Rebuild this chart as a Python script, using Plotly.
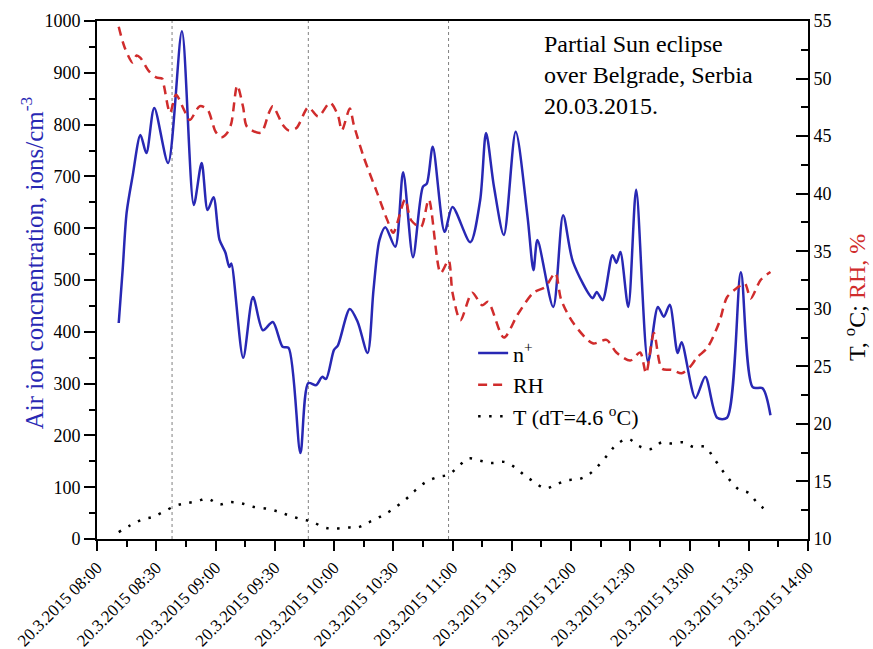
import plotly.graph_objects as go

DAY = "2015-03-20"

# Positive air ion concentration, ions/cm^3
ion_time = ["08:11", "08:13", "08:15", "08:18", "08:22", "08:25", "08:29", "08:36",
            "08:43", "08:49", "08:53", "08:56", "08:59", "09:02", "09:05", "09:07",
            "09:08", "09:14", "09:19", "09:24", "09:29", "09:34", "09:37", "09:43",
            "09:47", "09:51", "09:54", "09:56", "10:00", "10:02", "10:08", "10:12",
            "10:17", "10:20", "10:23", "10:26", "10:31", "10:35", "10:40", "10:45",
            "10:47", "10:50", "10:56", "11:00", "11:09", "11:14", "11:17", "11:21",
            "11:26", "11:32", "11:38", "11:41", "11:43", "11:51", "11:56", "12:01",
            "12:11", "12:13", "12:16", "12:21", "12:23", "12:25", "12:29", "12:33",
            "12:39", "12:44", "12:47", "12:50", "12:54", "12:56", "13:03", "13:08",
            "13:14", "13:19", "13:26", "13:32", "13:37", "13:41"]
ion_conc = [417, 520, 630, 700, 780, 745, 832, 726,
            980, 645, 726, 635, 660, 578, 553, 525,
            532, 350, 467, 403, 419, 371, 369, 166,
            301, 297, 313, 309, 365, 374, 444, 419,
            359, 481, 577, 602, 564, 708, 544, 680,
            686, 757, 593, 641, 573, 654, 784, 680,
            587, 786, 622, 519, 577, 448, 625, 535,
            465, 477, 461, 548, 533, 554, 448, 674,
            342, 448, 429, 452, 359, 380, 272, 313,
            234, 234, 515, 293, 291, 239]

# Relative humidity, %
rh_time = ["08:11", "08:14", "08:18", "08:20", "08:22", "08:26", "08:30", "08:33",
           "08:34", "08:37", "08:40", "08:44", "08:47", "08:52", "08:56", "09:00",
           "09:03", "09:06", "09:08", "09:11", "09:14", "09:16", "09:23", "09:27",
           "09:29", "09:34", "09:37", "09:41", "09:47", "09:52", "09:58", "10:02",
           "10:04", "10:08", "10:10", "10:15", "10:22", "10:27", "10:30", "10:36",
           "10:39", "10:44", "10:48", "10:54", "10:58", "11:00", "11:04", "11:10",
           "11:15", "11:18", "11:26", "11:33", "11:41", "11:47", "11:52", "11:55",
           "12:01", "12:11", "12:18", "12:23", "12:30", "12:35", "12:38", "12:42",
           "12:46", "12:51", "12:56", "13:00", "13:04", "13:09", "13:15", "13:19",
           "13:24", "13:28", "13:31", "13:36", "13:41"]
rh_value = [54.5, 52.7, 51.4, 52.0, 51.8, 50.7, 50.1, 50.0,
            49.3, 47.0, 48.6, 47.3, 46.4, 47.6, 47.3, 45.4,
            44.9, 45.3, 46.1, 49.4, 47.5, 45.8, 45.3, 47.0,
            47.6, 46.0, 45.5, 45.7, 47.5, 46.7, 47.9, 46.8,
            45.5, 47.4, 46.0, 43.2, 40.0, 37.7, 36.6, 39.5,
            37.7, 37.1, 39.5, 33.1, 34.2, 31.4, 29.0, 31.4,
            30.3, 30.6, 27.5, 29.5, 31.4, 31.9, 33.1, 30.8,
            28.8, 27.0, 27.3, 26.2, 25.5, 26.2, 24.4, 27.9,
            24.8, 24.7, 24.4, 24.9, 25.8, 26.6, 28.8, 31.0,
            31.8, 32.2, 30.9, 32.5, 33.2]

# Air temperature, deg C
temp_time = ["08:11", "08:17", "08:23", "08:28", "08:33", "08:40", "08:45", "08:51",
             "08:56", "09:02", "09:07", "09:13", "09:19", "09:27", "09:33", "09:38",
             "09:44", "09:49", "09:55", "10:00", "10:07", "10:12", "10:17", "10:23",
             "10:29", "10:36", "10:41", "10:47", "10:53", "10:58", "11:03", "11:08",
             "11:14", "11:20", "11:26", "11:31", "11:36", "11:41", "11:47", "11:52",
             "11:58", "12:04", "12:09", "12:14", "12:19", "12:23", "12:29", "12:34",
             "12:40", "12:46", "12:51", "12:57", "13:02", "13:08", "13:12", "13:16",
             "13:20", "13:25", "13:30", "13:34", "13:40"]
temp_value = [10.6, 11.2, 11.7, 11.9, 12.3, 12.9, 13.1, 13.3,
              13.5, 13.0, 13.2, 13.1, 12.8, 12.6, 12.3, 12.0,
              11.7, 11.5, 11.0, 10.9, 11.0, 11.0, 11.4, 11.9,
              12.5, 13.4, 14.2, 15.0, 15.4, 15.6, 16.3, 17.0,
              16.8, 16.6, 16.7, 16.3, 15.6, 15.0, 14.4, 14.7,
              15.1, 15.2, 15.6, 16.4, 17.4, 18.2, 18.7, 18.1,
              17.8, 18.4, 18.3, 18.4, 18.0, 18.0, 17.1, 16.1,
              15.2, 14.3, 14.0, 13.2, 12.3]

# Eclipse contacts: first contact, maximum, last contact
eclipse_phases = ["08:38", "09:47", "10:58"]

tick_times = ["08:00", "08:30", "09:00", "09:30", "10:00", "10:30", "11:00",
              "11:30", "12:00", "12:30", "13:00", "13:30", "14:00"]
tick_labels = ["20.3.2015 08:00", "20.3.2015 08:30", "20.3.2015 09:00",
               "20.3.2015 09:30", "20.3.2015 10:00", "20.3.2015 10:30",
               "20.3.2015 11:00", "20.3.2015 11:30", "20.3.2015 12:00",
               "20.3.2015 12:30", "20.3.2015 13:00", "20.3.2015 13:30",
               "20.3.2015 14:00"]


def stamp(times):
    return [f"{DAY} {t}" for t in times]


SERIF = "Liberation Serif, Times New Roman, serif"
BLUE = "#2828b4"
RED = "#d02c2c"

fig = go.Figure()

fig.add_trace(go.Scatter(
    x=stamp(ion_time), y=ion_conc, name="n<sup>+</sup>", mode="lines",
    line=dict(color=BLUE, width=2.5, shape="spline", smoothing=0.8),
))
fig.add_trace(go.Scatter(
    x=stamp(rh_time), y=rh_value, name="RH", mode="lines", yaxis="y2",
    line=dict(color=RED, width=2.5, dash="9px,6px", shape="spline", smoothing=0.8),
))
fig.add_trace(go.Scatter(
    x=stamp(temp_time), y=temp_value, name="T (dT=4.6 <sup>o</sup>C)",
    mode="lines", yaxis="y2",
    line=dict(color="black", width=2.5, dash="2.5px,8.5px", shape="spline"),
))

for t in stamp(eclipse_phases):
    fig.add_shape(type="line", xref="x", yref="paper", x0=t, x1=t, y0=0, y1=1,
                  line=dict(color="#808080", width=1, dash="dot"), layer="below")

fig.add_annotation(
    text="Partial Sun eclipse<br>over Belgrade, Serbia<br>20.03.2015.",
    xref="paper", yref="paper", x=0.626, y=0.985, xanchor="left", yanchor="top",
    align="left", showarrow=False, font=dict(family=SERIF, size=24, color="black"),
)

# Axis titles
fig.add_annotation(
    text="Air ion concnentration, ions/cm<sup>-3</sup>",
    xref="paper", yref="paper", x=-0.091, y=0.533, xanchor="center", yanchor="middle",
    textangle=-90, showarrow=False, font=dict(family=SERIF, size=25, color=BLUE),
)
fig.add_annotation(
    text=f"T, <sup>o</sup>C; <span style=\"color:{RED}\">RH, %</span>",
    xref="paper", yref="paper", x=1.066, y=0.467, xanchor="center", yanchor="middle",
    textangle=-90, showarrow=False, font=dict(family=SERIF, size=24, color="black"),
)

fig.update_layout(
    width=873, height=649,
    margin=dict(l=97, r=65, t=21, b=110, autoexpand=False),
    paper_bgcolor="white", plot_bgcolor="white",
    font=dict(family=SERIF, size=18, color="black"),
    showlegend=True,
    legend=dict(x=0.529, y=0.399, xanchor="left", yanchor="top",
                bgcolor="rgba(0,0,0,0)", font=dict(family=SERIF, size=22),
                tracegroupgap=0),
    xaxis=dict(
        type="date", automargin=False,
        range=[f"{DAY} 08:00", f"{DAY} 14:00"],
        tickmode="array", tickvals=stamp(tick_times), ticktext=tick_labels,
        tickangle=-45, tickfont=dict(family=SERIF, size=17),
        ticks="outside", ticklen=10, tickwidth=2, tickcolor="black",
        minor=dict(ticks="outside", ticklen=6, tickwidth=2, tickcolor="black",
                   dtick=15 * 60 * 1000, tick0=f"{DAY} 08:00"),
        showline=True, linewidth=2, linecolor="black", mirror=True,
        showgrid=False, zeroline=False,
    ),
    yaxis=dict(
        automargin=False,
        range=[0, 1000], tickmode="linear", tick0=0, dtick=100,
        ticks="outside", ticklen=11, tickwidth=2, tickcolor="black",
        minor=dict(ticks="outside", ticklen=6, tickwidth=2, tickcolor="black", dtick=50),
        showline=True, linewidth=2, linecolor="black",
        showgrid=False, zeroline=False,
    ),
    yaxis2=dict(
        overlaying="y", side="right", automargin=False,
        range=[10, 55], tickmode="linear", tick0=10, dtick=5,
        ticks="inside", ticklen=12, tickwidth=2, tickcolor="black",
        minor=dict(ticks="inside", ticklen=7, tickwidth=2, tickcolor="black", dtick=2.5),
        showline=True, linewidth=2, linecolor="black",
        showgrid=False, zeroline=False,
    ),
)

fig.write_html("out.html")
